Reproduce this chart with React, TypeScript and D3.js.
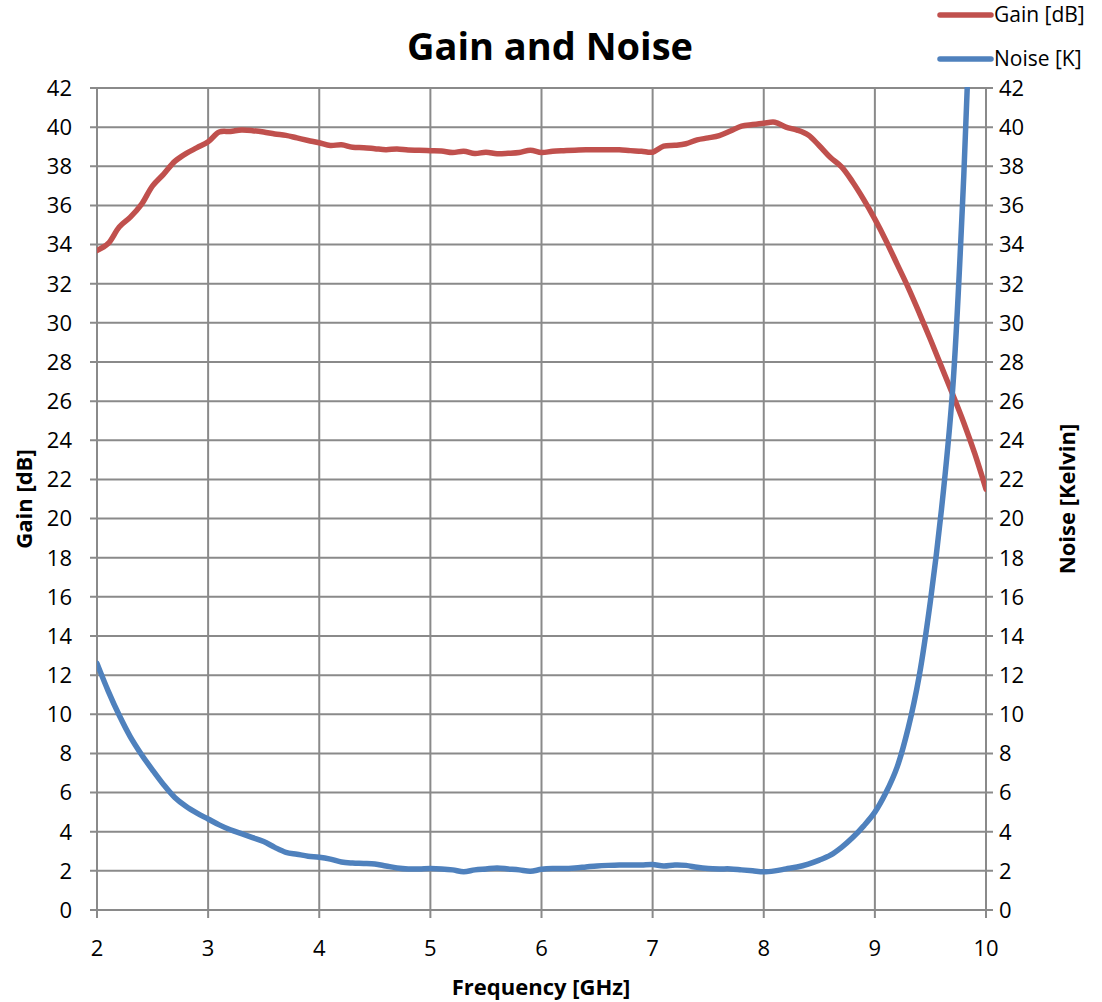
import React from "react"
import * as d3 from "d3"

// frequency samples [GHz]
const freq = [
  2.0, 2.1, 2.2, 2.3, 2.4, 2.5, 2.6, 2.7, 2.8, 2.9,
  3.0, 3.1, 3.2, 3.3, 3.4, 3.5, 3.6, 3.7, 3.8, 3.9,
  4.0, 4.1, 4.2, 4.3, 4.4, 4.5, 4.6, 4.7, 4.8, 4.9,
  5.0, 5.1, 5.2, 5.3, 5.4, 5.5, 5.6, 5.7, 5.8, 5.9,
  6.0, 6.1, 6.2, 6.3, 6.4, 6.5, 6.6, 6.7, 6.8, 6.9,
  7.0, 7.1, 7.2, 7.3, 7.4, 7.5, 7.6, 7.7, 7.8, 7.9,
  8.0, 8.1, 8.2, 8.3, 8.4, 8.5, 8.6, 8.7, 8.8, 8.9,
  9.0, 9.1, 9.2, 9.3, 9.4, 9.5, 9.6, 9.7, 9.8, 9.9,
  10.0,
]

// gain [dB]
const gain = [
  33.7, 34.05, 34.9, 35.4, 36.05, 37.0, 37.6, 38.25, 38.65, 38.95,
  39.25, 39.75, 39.78, 39.85, 39.82, 39.75, 39.65, 39.58, 39.45, 39.32,
  39.2, 39.06, 39.1, 38.97, 38.95, 38.9, 38.85, 38.88, 38.83, 38.82,
  38.8, 38.78, 38.7, 38.77, 38.65, 38.72, 38.64, 38.66, 38.7, 38.82,
  38.7, 38.77, 38.8, 38.82, 38.84, 38.84, 38.85, 38.84, 38.8, 38.77,
  38.72, 39.03, 39.07, 39.15, 39.35, 39.45, 39.57, 39.8, 40.05, 40.13,
  40.2, 40.25, 40.0, 39.85, 39.6, 39.05, 38.45, 37.97, 37.2, 36.3,
  35.3, 34.2, 33.0, 31.8, 30.5, 29.15, 27.75, 26.35, 24.9, 23.3,
  21.5,
]

// noise [K] (last points run above the 42 K top and get clipped)
const noise = [
  12.6, 11.2, 9.95, 8.85, 7.95, 7.15, 6.4, 5.75, 5.3, 4.95,
  4.65, 4.35, 4.1, 3.9, 3.7, 3.5, 3.2, 2.95, 2.85, 2.75,
  2.7, 2.6, 2.45, 2.4, 2.38, 2.35, 2.25, 2.15, 2.1, 2.1,
  2.12, 2.1, 2.05, 1.95, 2.05, 2.1, 2.15, 2.1, 2.05, 1.98,
  2.08, 2.12, 2.12, 2.15, 2.2, 2.25, 2.28, 2.3, 2.3, 2.3,
  2.32, 2.25, 2.3, 2.28, 2.18, 2.12, 2.1, 2.1, 2.05, 2.0,
  1.95, 2.0, 2.1, 2.2, 2.35, 2.55, 2.8, 3.2, 3.7, 4.3,
  5.0, 6.0, 7.3, 9.3, 12.0, 15.8, 20.5, 26.6, 37.5, 52.0,
  70.0,
]

const xTicks = [2, 3, 4, 5, 6, 7, 8, 9, 10]
const yTicks = d3.range(0, 43, 2)

const legendItems = [
  { label: "Gain [dB]", color: "#C0504D" },
  { label: "Noise [K]", color: "#4F81BD" },
]

const W = 1102
const H = 1002
const font = "'Open Sans', 'DejaVu Sans', sans-serif"
const gridColor = "#8a8a8a"

export default function App() {
  const left = 97
  const right = 986
  const top = 88
  const bottom = 910

  const x = d3.scaleLinear().domain([2, 10]).range([left, right])
  const yGain = d3.scaleLinear().domain([0, 42]).range([bottom, top])
  const yNoise = d3.scaleLinear().domain([0, 42]).range([bottom, top])

  const gainLine = d3
    .line<number>()
    .x((_, i) => x(freq[i]))
    .y((d) => yGain(d))
    .curve(d3.curveCatmullRom)

  const noiseLine = d3
    .line<number>()
    .x((_, i) => x(freq[i]))
    .y((d) => yNoise(d))
    .curve(d3.curveCatmullRom)

  return (
    <svg
      width={W}
      height={H}
      style={{ position: "fixed", left: 0, top: 0, background: "#fff" }}
      fontFamily={font}
    >
      <defs>
        <clipPath id="plot">
          <rect x={left} y={top - 1} width={right - left} height={bottom - top + 2} />
        </clipPath>
      </defs>

      {/* grid */}
      {yTicks.map((t) => (
        <line
          key={"h" + t}
          x1={left - 7}
          x2={right + 7}
          y1={yGain(t)}
          y2={yGain(t)}
          stroke={gridColor}
          strokeWidth={2}
        />
      ))}
      {xTicks.map((t) => (
        <line
          key={"v" + t}
          x1={x(t)}
          x2={x(t)}
          y1={top}
          y2={bottom + 8}
          stroke={gridColor}
          strokeWidth={2}
        />
      ))}

      {/* tick labels */}
      {yTicks.map((t) => (
        <text
          key={"yl" + t}
          x={72}
          y={yGain(t)}
          dy="0.36em"
          textAnchor="end"
          fontSize={22}
          fill="#000"
        >
          {t}
        </text>
      ))}
      {yTicks.map((t) => (
        <text
          key={"yr" + t}
          x={999}
          y={yNoise(t)}
          dy="0.36em"
          textAnchor="start"
          fontSize={22}
          fill="#000"
        >
          {t}
        </text>
      ))}
      {xTicks.map((t) => (
        <text
          key={"xl" + t}
          x={x(t)}
          y={956}
          textAnchor="middle"
          fontSize={22}
          fill="#000"
        >
          {t}
        </text>
      ))}

      {/* series */}
      <g clipPath="url(#plot)">
        <path
          d={gainLine(gain) ?? ""}
          fill="none"
          stroke="#C0504D"
          strokeWidth={5.5}
          strokeLinejoin="round"
          strokeLinecap="round"
        />
        <path
          d={noiseLine(noise) ?? ""}
          fill="none"
          stroke="#4F81BD"
          strokeWidth={5.5}
          strokeLinejoin="round"
          strokeLinecap="round"
        />
      </g>

      {/* titles */}
      <text x={550} y={60} textAnchor="middle" fontSize={38} fontWeight="bold">
        Gain and Noise
      </text>
      <text x={541} y={995} textAnchor="middle" fontSize={22} fontWeight="bold">
        Frequency [GHz]
      </text>
      <text
        transform={`translate(32, ${(top + bottom) / 2}) rotate(-90)`}
        textAnchor="middle"
        fontSize={22}
        fontWeight="bold"
      >
        Gain [dB]
      </text>
      <text
        transform={`translate(1075, ${(top + bottom) / 2}) rotate(-90)`}
        textAnchor="middle"
        fontSize={22}
        fontWeight="bold"
      >
        Noise [Kelvin]
      </text>

      {/* legend */}
      {legendItems.map((item, i) => (
        <g key={item.label} transform={`translate(0, ${15 + i * 44})`}>
          <line
            x1={940}
            x2={991}
            y1={0}
            y2={0}
            stroke={item.color}
            strokeWidth={5.5}
            strokeLinecap="round"
          />
          <text x={994} y={0} dy="0.34em" fontSize={21} fill="#000">
            {item.label}
          </text>
        </g>
      ))}
    </svg>
  )
}
